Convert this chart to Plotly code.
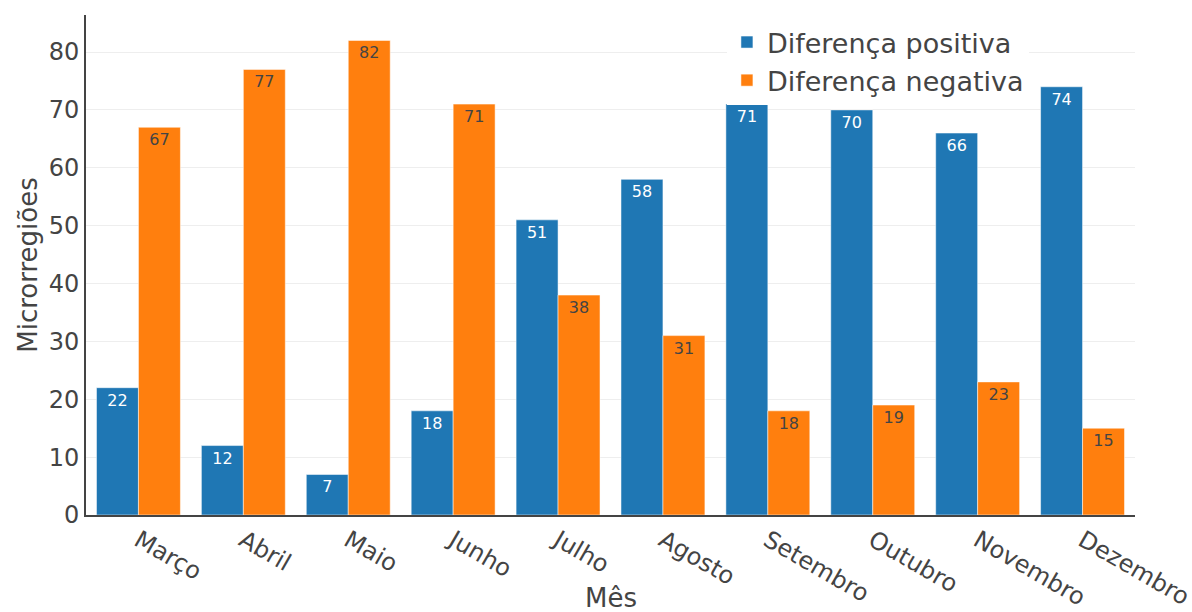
import plotly.graph_objects as go

meses = ["Março", "Abril", "Maio", "Junho", "Julho", "Agosto",
         "Setembro", "Outubro", "Novembro", "Dezembro"]
positiva = [22, 12, 7, 18, 51, 58, 71, 70, 66, 74]
negativa = [67, 77, 82, 71, 38, 31, 18, 19, 23, 15]

FONT = "DejaVu Sans"

fig = go.Figure()
fig.add_trace(go.Bar(
    x=meses, y=positiva, name="Diferença positiva",
    text=positiva, textposition="auto",
    marker=dict(color="#1f77b4", line=dict(color="rgba(255,255,255,0.5)", width=1)),
    textfont=dict(family=FONT, size=16),
))
fig.add_trace(go.Bar(
    x=meses, y=negativa, name="Diferença negativa",
    text=negativa, textposition="auto",
    marker=dict(color="#ff7f0e", line=dict(color="rgba(255,255,255,0.5)", width=1)),
    textfont=dict(family=FONT, size=16),
))

fig.add_annotation(
    text="Mês", xref="paper", yref="paper", x=0.5, y=-0.166,
    xanchor="center", yanchor="middle", showarrow=False,
    font=dict(family=FONT, size=26, color="#444"),
)

fig.update_layout(
    width=1192, height=612,
    margin=dict(l=86, r=57, t=15, b=97),
    barmode="group", bargap=0.2, bargroupgap=0,
    paper_bgcolor="white", plot_bgcolor="white",
    font=dict(family=FONT, color="#444"),
    legend=dict(x=0.611, y=0.994, xanchor="left", yanchor="top",
                bgcolor="white", font=dict(family=FONT, size=27, color="#444"),
                itemwidth=30),
    xaxis=dict(
        automargin=False,
        tickangle=30, tickfont=dict(size=24),
        showline=True, linecolor="#444", linewidth=2,
        showgrid=False,
    ),
    yaxis=dict(
        automargin=False,
        title=dict(text="Microrregiões", font=dict(size=26), standoff=4),
        range=[0, 86.4], dtick=10, tickfont=dict(size=24),
        showline=True, linecolor="#444", linewidth=2,
        gridcolor="#eee", zeroline=False,
    ),
)

fig.write_html("out.html")
